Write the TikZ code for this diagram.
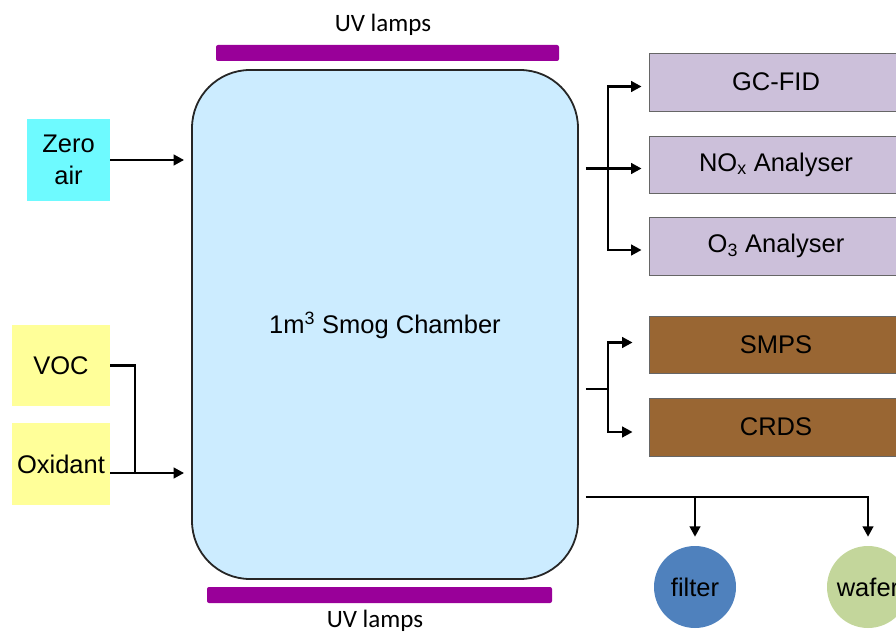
\documentclass[tikz,border=0pt]{standalone}
\usepackage{fontspec}
\setmainfont{Liberation Sans}
\newfontfamily\calib{Carlito}
\usetikzlibrary{arrows.meta}
\definecolor{chamberfill}{RGB}{204,236,255}
\definecolor{zerofill}{RGB}{110,250,255}
\definecolor{yelfill}{RGB}{255,255,153}
\definecolor{lilac}{RGB}{204,192,218}
\definecolor{brown}{RGB}{153,102,51}
\definecolor{lamp}{RGB}{153,0,153}
\definecolor{filterblue}{RGB}{79,129,189}
\definecolor{wafergreen}{RGB}{195,214,155}
\begin{document}
\begin{tikzpicture}[x=1pt,y=-1pt,
  txt/.style={font=\fontsize{25.5}{29}\selectfont, text=black},
  srcbox/.style={txt, inner sep=0pt, align=center},
  instbox/.style={txt, draw=black!60, line width=0.8pt, inner sep=0pt, minimum width=254pt},
  lampbar/.style={fill=lamp, rounded corners=2pt, inner sep=0pt, minimum height=16pt},
  lamplabel/.style={font=\calib\fontsize{25}{29}\selectfont, inner sep=0pt},
  disc/.style={txt, circle, inner sep=0pt, minimum size=82pt},
  conn/.style={line width=2.9pt, black},
  arr/.style={conn, -{Triangle[length=10.5pt,width=10.5pt]}}
]
\useasboundingbox (0,0) rectangle (896,636);

% chamber
\node[txt, draw=black!85, line width=1.8pt, fill=chamberfill, rounded corners=58pt,
      minimum width=386pt, minimum height=509pt, inner sep=0pt] (chamber) at (385,324.5) {};
\node[txt, inner sep=0pt] (chtext) at (385,325) {1m\textsuperscript{3} Smog Chamber};

% lamps
\node[lampbar, minimum width=343pt] (lampT) at (387.5,53) {};
\node[lampbar, minimum width=345pt] (lampB) at (379.5,595) {};
\node[lamplabel] (lampTl) at (383,25) {UV lamps};
\node[lamplabel] (lampBl) at (375,621) {UV lamps};

% sources
\node[srcbox, fill=zerofill, minimum width=83pt, minimum height=82pt] (zero) at (68.5,160) {Zero\\[3pt]air};
\node[srcbox, fill=yelfill, minimum width=98pt, minimum height=81pt] (voc) at (61,365.5) {VOC};
\node[srcbox, fill=yelfill, minimum width=98pt, minimum height=82pt] (oxid) at (61,464) {Oxidant};

% instruments
\node[instbox, fill=lilac, minimum height=58pt] (gc) at (776,82) {GC-FID};
\node[instbox, fill=lilac, minimum height=57pt] (nox) at (776,164.5) {NO\textsubscript{x} Analyser};
\node[instbox, fill=lilac, minimum height=58pt] (o3) at (776,246) {O\textsubscript{3} Analyser};
\node[instbox, fill=brown, minimum height=57pt] (smps) at (776,344.5) {SMPS};
\node[instbox, fill=brown, minimum height=58pt] (crds) at (776,427) {CRDS};

% collectors
\node[disc, fill=filterblue] (filter) at (695,587) {filter};
\node[disc, fill=wafergreen] (wafer) at (868,587) {wafer};

% helper coordinates
\coordinate (inL) at ([xshift=-7pt]chamber.west);
\coordinate (outR) at ([xshift=7pt]chamber.east);
\coordinate (jn) at (135,473);
\coordinate (brx) at (608,0);
\coordinate (gcin) at ([shift={(-7pt,-4.5pt)}]gc.west);
\coordinate (noxin) at ([shift={(-7pt,-4pt)}]nox.west);
\coordinate (o3in) at ([shift={(-7pt,-4pt)}]o3.west);
\coordinate (smpsin) at ([shift={(-16pt,2pt)}]smps.west);
\coordinate (crdsin) at ([shift={(-16pt,-5pt)}]crds.west);
\coordinate (br2) at (608,389);
\coordinate (bt) at (0,497);
\coordinate (filterin) at ([yshift=9pt]filter.north);
\coordinate (waferin) at ([yshift=9pt]wafer.north);

% inputs
\draw[arr] (zero.east) -- (zero.east -| inL);
\draw[conn] (voc.east) -| (jn);
\draw[arr] (oxid.east |- jn) -- (jn -| inL);

% gas analysers
\draw[arr] (outR |- noxin) -- (noxin);
\draw[arr] (noxin -| brx) |- (gcin);
\draw[arr] (noxin -| brx) |- (o3in);

% particle instruments
\draw[conn] (br2 -| outR) -- (br2);
\draw[arr] (br2) |- (smpsin);
\draw[arr] (br2) |- (crdsin);

% collectors
\draw[arr] (outR |- bt) -| (waferin);
\draw[arr] (bt -| filterin) -- (filterin);
\end{tikzpicture}
\end{document}
